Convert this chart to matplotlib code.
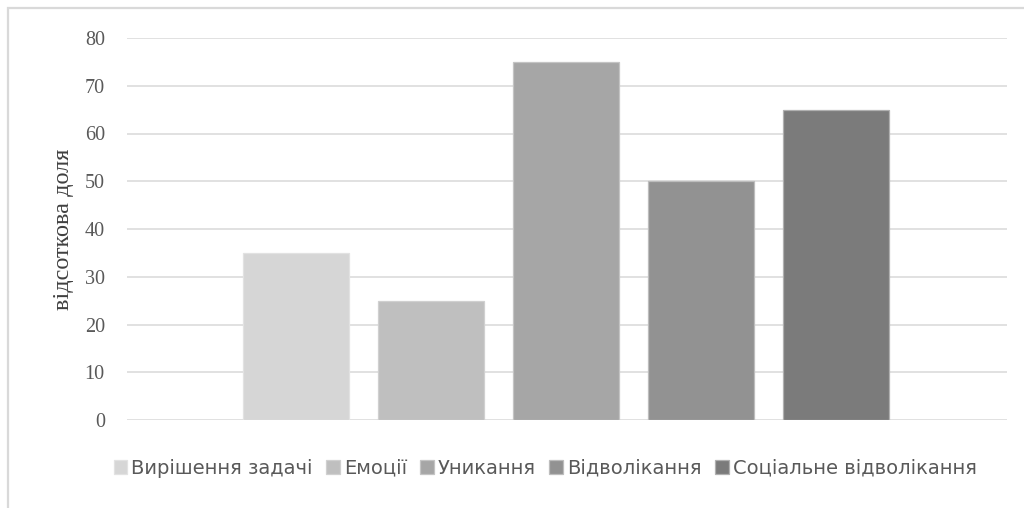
import matplotlib

matplotlib.use("Agg")
import matplotlib.pyplot as plt
from matplotlib.patches import Rectangle

# Частка респондентів за стратегіями подолання стресу
strategies = [
    "Вирішення задачі",
    "Емоції",
    "Уникання",
    "Відволікання",
    "Соціальне відволікання",
]
shares = [35, 25, 75, 50, 65]
colors = ["#d6d6d6", "#bfbfbf", "#a6a6a6", "#929292", "#7b7b7b"]
edges = ["#e2e2e2", "#d0d0d0", "#c4c4c4", "#bdbdbd", "#b0b0b0"]
yticks = [0, 10, 20, 30, 40, 50, 60, 70, 80]

W, H = 1024, 508
fig = plt.figure(figsize=(W / 100, H / 100), dpi=100)

# рамка області діаграми
fig.patches.append(Rectangle((8 / W, -0.1), 1.2, 1 - 8 / H + 0.1,
                             transform=fig.transFigure, fill=False,
                             edgecolor="#d9d9d9", linewidth=1.6))

ax = fig.add_axes([127 / W, 1 - 420 / H, 880 / W, 382 / H])

handles = []
for i, (name, val) in enumerate(zip(strategies, shares)):
    b = ax.bar(i, val, width=0.785, color=colors[i], edgecolor=edges[i],
               linewidth=0.9, label=name, zorder=3)
    handles.append(b)

ax.set_xlim(-1.252, 5.267)
ax.set_ylim(0, 80)
ax.set_yticks(yticks)
ax.set_yticklabels([str(t) for t in yticks], family="Liberation Serif",
                   fontsize=14.5, color="#595959")
ax.set_xticks([])
ax.tick_params(axis="y", length=0, pad=16)
ax.grid(axis="y", color="#dcdcdc", linewidth=1.2, zorder=0)
for s in ax.spines.values():
    s.set_visible(False)

fig.text(63 / W, 1 - 229 / H, "відсоткова доля", rotation=90,
         ha="center", va="center", family="Liberation Serif",
         fontsize=17.5, color="#404040")

leg = fig.legend(handles=handles, labels=strategies, loc="center",
                 bbox_to_anchor=(545 / W, 1 - 468 / H), ncol=5, frameon=False,
                 prop={"family": "DejaVu Sans", "size": 14},
                 handlelength=0.7, handleheight=0.75, handletextpad=0.2,
                 columnspacing=0.7, labelcolor="#595959")

fig.savefig("out.png", dpi=100, facecolor="white")
